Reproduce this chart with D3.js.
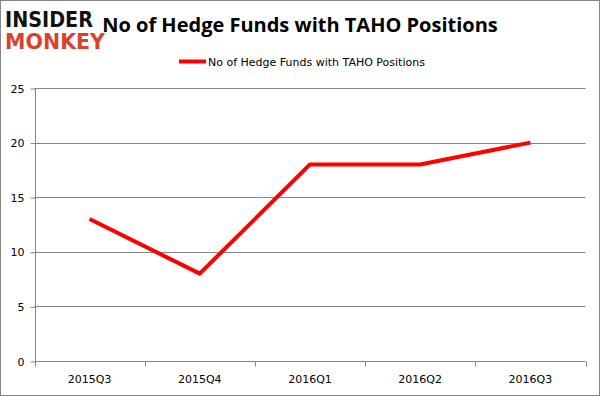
<!DOCTYPE html>
<html><head><meta charset="utf-8">
<script src="https://cdn.jsdelivr.net/npm/d3@7"></script>
<style>body{margin:0;background:#fff}svg{display:block}</style>
</head><body><svg id="c" width="600" height="396"></svg>
<script>
const categories = ["2015Q3","2015Q4","2016Q1","2016Q2","2016Q3"];
const values = [13, 8, 18, 18, 20];
const yTicks = [0, 5, 10, 15, 20, 25];
const seriesName = "No of Hedge Funds with TAHO Positions";
const titleText = "No of Hedge Funds with TAHO Positions";

const svg = d3.select("#c");
const W = 600, H = 396;
const m = {left: 34.5, right: 585.5, top: 88, bottom: 361};

svg.append("rect").attr("x",0.5).attr("y",0.5).attr("width",W-1).attr("height",H-1)
  .attr("fill","#fff").attr("stroke","#868686");

const x = d3.scaleBand().domain(categories).range([m.left, m.right]);
const y = d3.scaleLinear().domain([0,25]).range([m.bottom, m.top]);

// gridlines
svg.append("g").selectAll("line").data(yTicks.filter(t=>t>0)).join("line")
  .attr("x1", m.left).attr("x2", m.right)
  .attr("y1", d=>Math.round(y(d))+0.5).attr("y2", d=>Math.round(y(d))+0.5)
  .attr("stroke","#868686").attr("stroke-width",1);

// y axis
const ya = d3.axisLeft(y).tickValues(yTicks).tickSize(5).tickPadding(6);
const yg = svg.append("g").attr("transform",`translate(${Math.round(m.left)+0.5},0.5)`).call(ya);
yg.select(".domain").attr("stroke","#868686").attr("d",`M0,${m.top}V${m.bottom}`);
yg.selectAll(".tick line").attr("stroke","#868686");
yg.selectAll("text").attr("font-family","DejaVu Sans, Tahoma, sans-serif").attr("font-size",11).attr("fill","#000");

// x axis
const xa = d3.axisBottom(x).tickSize(0).tickPadding(14);
const xg = svg.append("g").attr("transform",`translate(0,${Math.round(m.bottom)+0.5})`).call(xa);
xg.select(".domain").attr("stroke","#868686").attr("d",`M${m.left},0H${m.right}`);
xg.selectAll("text").attr("font-family","DejaVu Sans, Tahoma, sans-serif").attr("font-size",11).attr("fill","#000");
const bounds = categories.map(c=>x(c)).concat([m.right]);
xg.append("g").selectAll("line").data(bounds).join("line")
  .attr("x1",d=>Math.round(d)+0.5).attr("x2",d=>Math.round(d)+0.5).attr("y1",0).attr("y2",5)
  .attr("stroke","#868686");

// line
const line = d3.line().x((d,i)=>x(categories[i])+x.bandwidth()/2).y(d=>y(d));
svg.append("path").datum(values).attr("d",line).attr("fill","none")
  .attr("stroke","#ff0000").attr("stroke-width",4).attr("stroke-linejoin","round");

// legend
svg.append("line").attr("x1",179).attr("x2",206).attr("y1",61.5).attr("y2",61.5)
  .attr("stroke","#ff0000").attr("stroke-width",4);
svg.append("text").attr("x",208).attr("y",65.5).text(seriesName)
  .attr("font-family","DejaVu Sans, Tahoma, sans-serif").attr("font-size",11).attr("fill","#000");

// title
svg.append("text").attr("x",300).attr("y",32).attr("text-anchor","middle")
  .attr("font-family","Open Sans, Liberation Sans, sans-serif").attr("font-weight","bold")
  .attr("font-size",20).attr("fill","#000").text(titleText);

// logo
const lg = svg.append("g");
lg.append("text").attr("x",5).attr("y",27).text("INSIDER")
  .attr("font-family","DejaVu Sans, sans-serif").attr("font-weight","bold").attr("font-size",21)
  .attr("textLength",88).attr("lengthAdjust","spacingAndGlyphs").attr("fill","#111");
lg.append("text").attr("x",5).attr("y",49).text("MONKEY")
  .attr("font-family","DejaVu Sans, sans-serif").attr("font-weight","bold").attr("font-size",21)
  .attr("textLength",100).attr("lengthAdjust","spacingAndGlyphs").attr("fill","#d8432e");
</script></body></html>
